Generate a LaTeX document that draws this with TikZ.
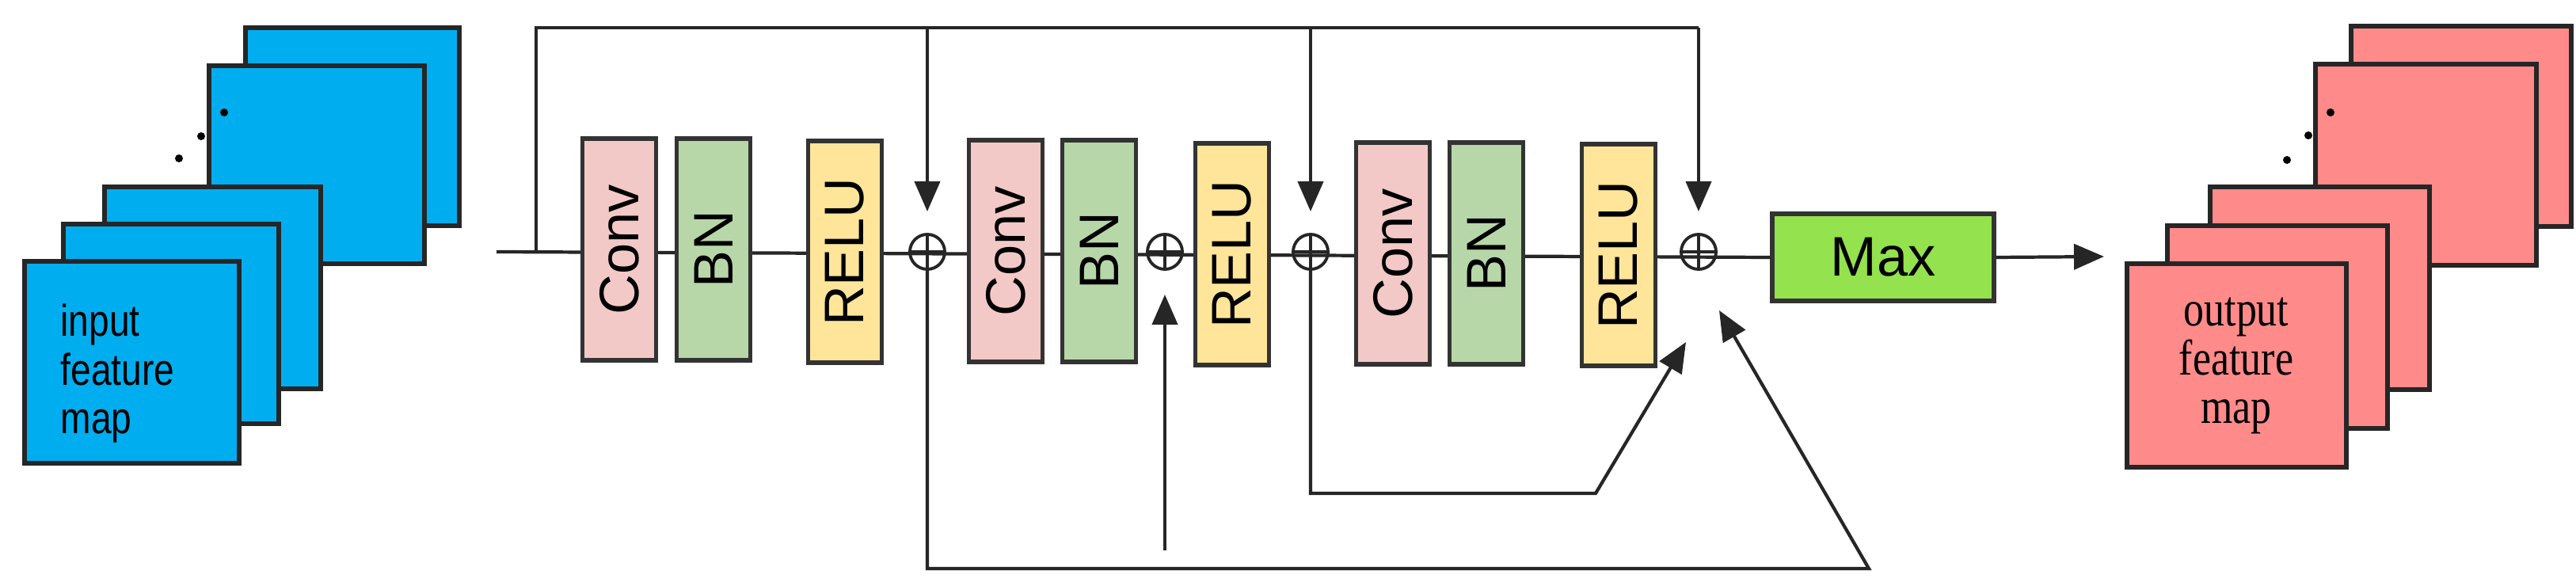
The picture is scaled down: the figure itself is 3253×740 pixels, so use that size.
\documentclass[tikz,border=0pt]{standalone}
\usepackage{fontspec}
\setmainfont{Liberation Sans}
\newfontfamily\serifx{Liberation Serif}
\usetikzlibrary{arrows.meta}
\definecolor{fmblue}{HTML}{00AEEF}
\definecolor{fmpink}{HTML}{FF8A8A}
\definecolor{convc}{HTML}{F2C9C6}
\definecolor{bnc}{HTML}{B7D7A8}
\definecolor{reluc}{HTML}{FFE599}
\definecolor{maxc}{HTML}{93E24E}
\tikzset{
  fmap/.style={draw=black!85,line width=1.5pt},
  layer/.style={draw=black!80,line width=1.5pt,minimum width=0.93cm,minimum height=2.8cm,inner sep=0pt},
  ltxt/.style={rotate=90,font=\fontsize{20}{22}\selectfont},
  wire/.style={line width=1.2pt,draw=black!85},
  arr/.style={wire,-{Triangle[length=0.38cm,width=0.32cm]}},
  plus/.style={circle,draw=black!85,line width=1.1pt,minimum size=0.44cm,inner sep=0pt,
    path picture={\draw[line width=1.1pt,black!85] (path picture bounding box.north)--(path picture bounding box.south)
      (path picture bounding box.west)--(path picture bounding box.east);}},
  dotm/.style={circle,fill=black,inner sep=0pt,minimum size=0.1cm}
}
\begin{document}
\begin{tikzpicture}[x=0.01cm,y=-0.01cm]
\useasboundingbox (0,0) rectangle (3253,740);
% input maps
\draw[fmap,fill=fmblue] (310,35) rectangle (580,285);
\draw[fmap,fill=fmblue] (264,83) rectangle (536,333);
\draw[fmap,fill=fmblue] (132,236) rectangle (405,491);
\draw[fmap,fill=fmblue] (80,283) rectangle (352,535);
\draw[fmap,fill=fmblue] (31,330) rectangle (302,585);
\node[dotm] (d1) at (226,200) {};
\node[dotm] (d2) at (254,172) {};
\node[dotm] (d3) at (283,142) {};
\node[anchor=north west,align=left,xscale=0.82,font=\fontsize{16}{17.5}\selectfont,inner sep=0pt] (inp) at (76,383) {input\\feature\\map};
% output maps
\draw[fmap,fill=fmpink] (2969,33) rectangle (3247,286);
\draw[fmap,fill=fmpink] (2924,81) rectangle (3203,335);
\draw[fmap,fill=fmpink] (2791,236) rectangle (3068,492);
\draw[fmap,fill=fmpink] (2737,285) rectangle (3015,541);
\draw[fmap,fill=fmpink] (2686,333) rectangle (2963,590);
\node[dotm] (e1) at (2888,202) {};
\node[dotm] (e2) at (2915,171) {};
\node[dotm] (e3) at (2943,142) {};
\node[align=center,xscale=0.82,font=\serifx\fontsize{18}{17.5}\selectfont,inner sep=0pt] (outp) at (2824,462) {output\\feature\\map};
% main line
\coordinate (start) at (627,318);
\coordinate (tl) at (677,318);
\node[draw=black!80,line width=1.5pt,fill=maxc,minimum width=2.8cm,minimum height=1.1cm,font=\fontsize{20}{22}\selectfont] (max) at (2378,325) {Max};
\draw[wire] (start) -- (max.west);
\node[plus] (p1) at (1171,318) {};
\node[plus] (p2) at (1471,318) {};
\node[plus] (p3) at (1655,318) {};
\node[plus] (p4) at (2145,318) {};
\node[layer,fill=convc] (c1) at (782,315) {}; \node[ltxt] at (c1) {Conv};
\node[layer,fill=bnc] (b1) at (901,315) {}; \node[ltxt] at (b1) {BN};
\node[layer,fill=reluc] (r1) at (1067,318) {}; \node[ltxt] at (r1) {RELU};
\node[layer,fill=convc] (c2) at (1270,317) {}; \node[ltxt] at (c2) {Conv};
\node[layer,fill=bnc] (b2) at (1388,317) {}; \node[ltxt] at (b2) {BN};
\node[layer,fill=reluc] (r2) at (1556,321) {}; \node[ltxt] at (r2) {RELU};
\node[layer,fill=convc] (c3) at (1759,320) {}; \node[ltxt] at (c3) {Conv};
\node[layer,fill=bnc] (b3) at (1877,320) {}; \node[ltxt] at (b3) {BN};
\node[layer,fill=reluc] (r3) at (2044,322) {}; \node[ltxt] at (r3) {RELU};
% output arrow
\coordinate (outtip) at (2657,324);
\draw[arr] (max.east) -- (outtip);
% top skip connections
\coordinate (t0) at (677,35);
\coordinate (t1) at (1171,35);
\coordinate (t3) at (1655,35);
\coordinate (t4) at (2145,35);
\draw[wire] (tl) -- (t0) -- (t4);
\draw[arr,shorten >=0.27cm] (t1) -- (p1.north);
\draw[arr,shorten >=0.27cm] (t3) -- (p3.north);
\draw[arr,shorten >=0.27cm] (t4) -- (p4.north);
% bottom connections
\coordinate (b1a) at (1171,718);
\coordinate (b1b) at (2360,718);
\coordinate (b1tip) at (2171,392);
\draw[arr] (p1.south) -- (b1a) -- (b1b) -- (b1tip);
\coordinate (up2) at (1471,695);
\draw[arr,shorten >=0.3cm] (up2) -- (p2.south);
\coordinate (b3a) at (1655,623);
\coordinate (b3b) at (2015,623);
\coordinate (b3tip) at (2129,432);
\draw[arr] (p3.south) -- (b3a) -- (b3b) -- (b3tip);
\end{tikzpicture}
\end{document}
